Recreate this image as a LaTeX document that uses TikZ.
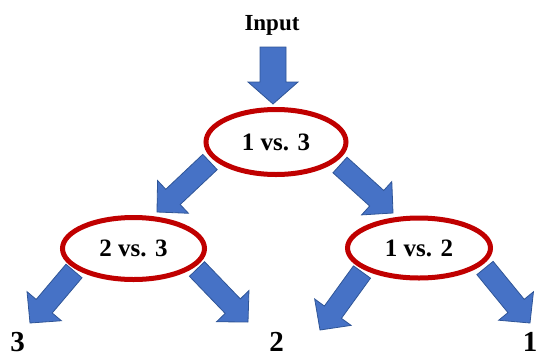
\documentclass[tikz,border=0pt]{standalone}
\usepackage{fontspec}
\setmainfont{Liberation Serif}
\usetikzlibrary{calc,shapes.geometric}

\definecolor{arrowfill}{RGB}{70,114,198}
\definecolor{arrowedge}{RGB}{47,85,151}
\definecolor{ringred}{RGB}{192,0,0}

\tikzset{
  blockarrow/.style={fill=arrowfill, draw=arrowedge, line width=0.8pt, line join=miter},
  decision/.style={ellipse, draw=ringred, fill=white, line width=5pt, inner sep=0pt,
    font=\fontsize{25}{25}\selectfont\bfseries},
  leaf/.style={inner sep=0pt, font=\fontsize{29}{29}\selectfont\bfseries},
}

% block arrow from #1 (tail) to #2 (tip): half shaft width #3, half head width #4, head length #5
\newcommand\blockarrow[5]{%
  \path ($(#2)!#5!(#1)$) coordinate (ab);
  \filldraw[blockarrow]
    ($(#1)!#3!90:(#2)$) -- ($(ab)!#3!90:(#2)$) -- ($(ab)!#4!90:(#2)$) -- (#2)
    -- ($(ab)!#4!-90:(#2)$) -- ($(ab)!#3!-90:(#2)$) -- ($(#1)!#3!-90:(#2)$) -- cycle;
}

\begin{document}
\begin{tikzpicture}[x=1pt, y=-1pt]
  \useasboundingbox (0,0) rectangle (541,357);

  % input label
  \node[anchor=base, inner sep=0pt, font=\fontsize{23}{23}\selectfont\bfseries] (input) at (272,30) {Input};

  % arrow end points
  \coordinate (t0) at (273,47);  \coordinate (h0) at (273,104);
  \coordinate (t1) at (210,162); \coordinate (h1) at (157,212);
  \coordinate (t2) at (340,165); \coordinate (h2) at (393,213);
  \coordinate (t3) at (74,271);  \coordinate (h3) at (30,323);
  \coordinate (t4) at (197,269); \coordinate (h4) at (248,322);
  \coordinate (t5) at (362,272); \coordinate (h5) at (320,330);
  \coordinate (t6) at (485,268); \coordinate (h6) at (530,323);

  % arrows
  \blockarrow{t0}{h0}{13pt}{25pt}{22pt}
  \blockarrow{t1}{h1}{10.5pt}{22.5pt}{22pt}
  \blockarrow{t2}{h2}{10.5pt}{22.5pt}{22pt}
  \blockarrow{t3}{h3}{10.5pt}{22.5pt}{22pt}
  \blockarrow{t4}{h4}{10.5pt}{22.5pt}{22pt}
  \blockarrow{t5}{h5}{10.5pt}{22.5pt}{22pt}
  \blockarrow{t6}{h6}{10.5pt}{22.5pt}{22pt}

  % decision nodes
  \node[decision, minimum width=140pt, minimum height=65pt] (d13) at (276,142) {1 vs. 3};
  \node[decision, minimum width=142pt, minimum height=62pt] (d23) at (133.5,248.5) {2 vs. 3};
  \node[decision, minimum width=143pt, minimum height=60pt] (d12) at (419,248) {1 vs. 2};

  % outcomes
  \node[leaf] (o3) at (17.5,342) {3};
  \node[leaf] (o2) at (276.5,342) {2};
  \node[leaf] (o1) at (530,342) {1};
\end{tikzpicture}
\end{document}
